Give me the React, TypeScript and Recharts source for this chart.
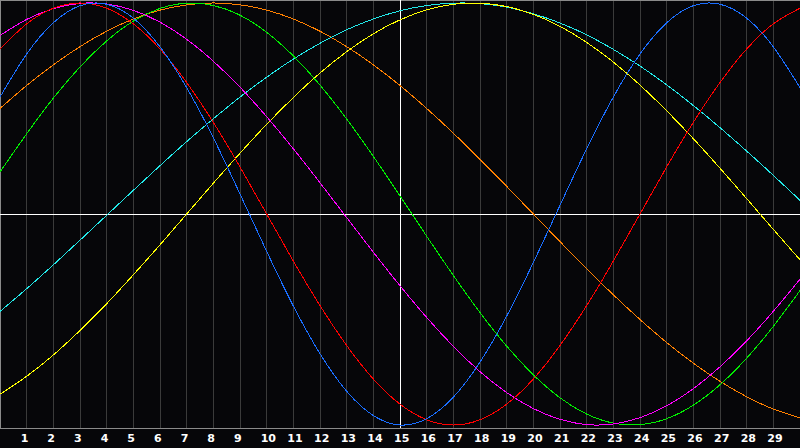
import React from 'react';
import { LineChart, Line, XAxis, YAxis, CartesianGrid, ReferenceLine } from 'recharts';

// days on the x axis (0 and 30 are the chart edges)
const days = [0, 1, 2, 3, 4, 5, 6, 7, 8, 9, 10, 11, 12, 13, 14, 15, 16, 17, 18, 19, 20, 21, 22, 23, 24, 25, 26, 27, 28, 29, 30];
const dayTicks = [1, 2, 3, 4, 5, 6, 7, 8, 9, 10, 11, 12, 13, 14, 15, 16, 17, 18, 19, 20, 21, 22, 23, 24, 25, 26, 27, 28, 29];

// values, -1 .. 1
const physical = [0.554, 0.758, 0.906, 0.987, 0.994, 0.928, 0.792, 0.599, 0.361, 0.095, -0.177, -0.436, -0.662, -0.84, -0.955, -1.0, -0.97, -0.868, -0.702, -0.484, -0.23, 0.041, 0.309, 0.554, 0.758, 0.906, 0.987, 0.994, 0.928, 0.792, 0.599];
const emotional = [0.782, 0.901, 0.975, 1.0, 0.975, 0.901, 0.782, 0.623, 0.434, 0.223, 0.0, -0.223, -0.434, -0.623, -0.782, -0.901, -0.975, -1.0, -0.975, -0.901, -0.782, -0.623, -0.434, -0.223, 0.0, 0.223, 0.434, 0.623, 0.782, 0.901, 0.975];
const intellectual = [0.199, 0.38, 0.549, 0.697, 0.82, 0.914, 0.974, 0.999, 0.988, 0.942, 0.861, 0.749, 0.611, 0.45, 0.273, 0.086, -0.105, -0.291, -0.467, -0.626, -0.762, -0.871, -0.948, -0.991, -0.998, -0.97, -0.906, -0.809, -0.683, -0.532, -0.363];
const intuitive = [0.846, 0.922, 0.973, 0.998, 0.995, 0.965, 0.909, 0.828, 0.724, 0.601, 0.461, 0.309, 0.148, -0.017, -0.181, -0.34, -0.49, -0.627, -0.747, -0.846, -0.922, -0.973, -0.998, -0.995, -0.965, -0.909, -0.828, -0.724, -0.601, -0.461, -0.309];
const awareness = [0.5, 0.609, 0.707, 0.793, 0.866, 0.924, 0.966, 0.991, 1.0, 0.991, 0.966, 0.924, 0.866, 0.793, 0.707, 0.609, 0.5, 0.383, 0.259, 0.131, 0.0, -0.131, -0.259, -0.383, -0.5, -0.609, -0.707, -0.793, -0.866, -0.924, -0.966];
const spiritual = [-0.462, -0.354, -0.241, -0.124, -0.006, 0.112, 0.229, 0.343, 0.451, 0.554, 0.648, 0.734, 0.809, 0.873, 0.924, 0.963, 0.988, 0.999, 0.997, 0.98, 0.949, 0.905, 0.849, 0.78, 0.701, 0.612, 0.514, 0.409, 0.298, 0.183, 0.065];
const aesthetic = [-0.854, -0.769, -0.668, -0.552, -0.425, -0.288, -0.146, 0.0, 0.146, 0.288, 0.425, 0.552, 0.668, 0.769, 0.854, 0.92, 0.967, 0.994, 0.999, 0.983, 0.946, 0.889, 0.813, 0.72, 0.611, 0.489, 0.357, 0.217, 0.073, -0.073, -0.217];

const today = 15;

const series = [
  { key: 'awareness', color: '#ff8000' },
  { key: 'spiritual', color: '#22e8e8' },
  { key: 'aesthetic', color: '#ffff00' },
  { key: 'intellectual', color: '#00ee00' },
  { key: 'intuitive', color: '#ff00ff' },
  { key: 'emotional', color: '#ff0000' },
  { key: 'physical', color: '#1a6eff' },
];

const data = days.map((d, i) => ({
  day: d,
  physical: physical[i],
  emotional: emotional[i],
  intellectual: intellectual[i],
  intuitive: intuitive[i],
  awareness: awareness[i],
  spiritual: spiritual[i],
  aesthetic: aesthetic[i],
}));

// 라벨은 격자선 약간 왼쪽에서 시작
const DayTick = (props: any) => {
  const { x, y, payload } = props;
  return (
    <text
      x={x - 6}
      y={y}
      dy={12}
      textAnchor="start"
      fill="#ffffff"
      fontSize={11}
      fontWeight="bold"
      fontFamily="DejaVu Sans, sans-serif"
    >
      {payload.value}
    </text>
  );
};

const Y_MAX = 1.014;

export default function App() {
  return (
    <div style={{ position: 'fixed', left: 0, top: 0, width: 800, height: 448, background: '#060609' }}>
      <LineChart width={800} height={448} data={data} margin={{ top: 0, right: 0, left: 0, bottom: 0 }}>
        <CartesianGrid horizontal={false} stroke="#3a3a3a" strokeWidth={1} shapeRendering="crispEdges" />
        <XAxis
          dataKey="day"
          type="number"
          domain={[0, 30]}
          ticks={dayTicks}
          interval={0}
          height={20}
          tick={DayTick}
          tickLine={false}
          tickSize={0}
          axisLine={{ stroke: '#8a8a8a', shapeRendering: 'crispEdges' }}
        />
        <YAxis type="number" domain={[-Y_MAX, Y_MAX]} hide />
        <ReferenceLine x={0} stroke="#8a8a8a" strokeWidth={2} shapeRendering="crispEdges" />
        <ReferenceLine y={Y_MAX} stroke="#8a8a8a" strokeWidth={2} shapeRendering="crispEdges" />
        <ReferenceLine y={0} stroke="#ffffff" strokeWidth={1} shapeRendering="crispEdges" />
        <ReferenceLine x={today} stroke="#ffffff" strokeWidth={1} shapeRendering="crispEdges" />
        {series.map(s => (
          <Line
            key={s.key}
            type="natural"
            dataKey={s.key}
            stroke={s.color}
            strokeWidth={1}
            shapeRendering="crispEdges"
            dot={false}
            activeDot={false}
            isAnimationActive={false}
          />
        ))}
      </LineChart>
    </div>
  );
}
